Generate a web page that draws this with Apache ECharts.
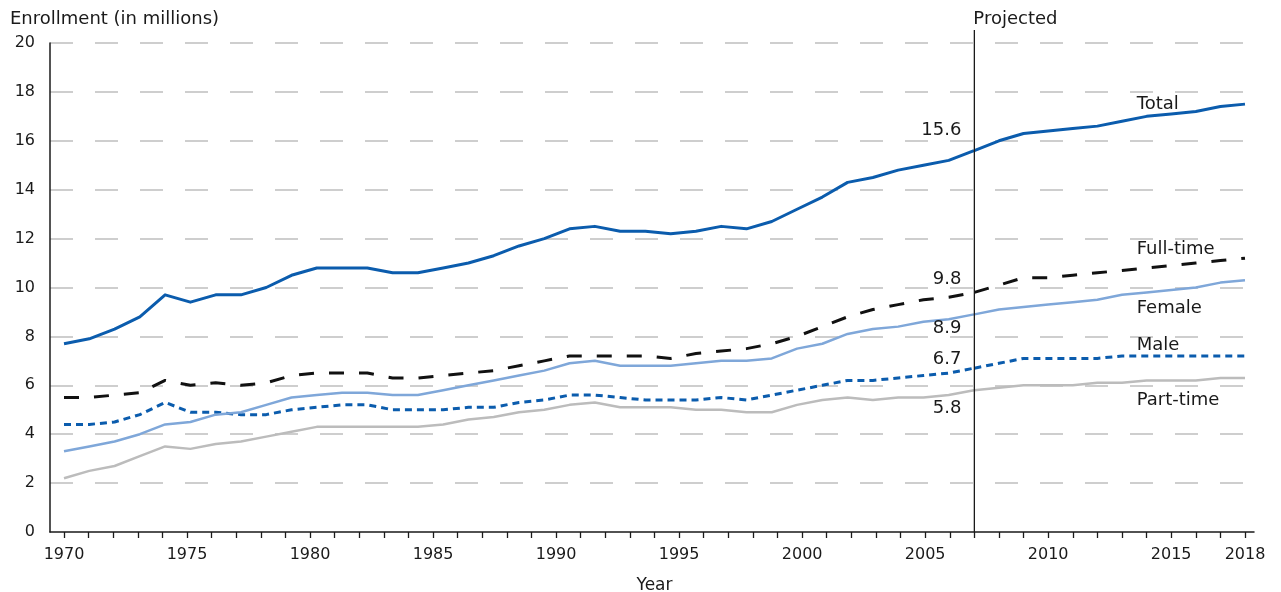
<!DOCTYPE html>
<html>
<head>
<meta charset="utf-8">
<title>Enrollment</title>
<script src="https://cdn.jsdelivr.net/npm/echarts@6/dist/echarts.min.js"></script>
<style>
  html, body { margin: 0; padding: 0; background: #fff; }
  #chart { width: 1281px; height: 592px; }
</style>
</head>
<body>
<div id="chart"></div>
<script>
// historical points: 37 values, drawn from the 1970 tick to the 2007 tick as in the source chart
const histYears = ['1971', '1972', '1973', '1974', '1975', '1976', '1977', '1978', '1979', '1980',
  '1981', '1982', '1983', '1984', '1985', '1986', '1987', '1988', '1989', '1990',
  '1991', '1992', '1993', '1994', '1995', '1996', '1997', '1998', '1999', '2000',
  '2001', '2002', '2003', '2004', '2005', '2006', '2007']

const totalHist = [7.7, 7.9, 8.3, 8.8, 9.7, 9.4, 9.7, 9.7, 10.0, 10.5, 10.8, 10.8, 10.8, 10.6, 10.6, 10.8,
  11.0, 11.3, 11.7, 12.0, 12.4, 12.5, 12.3, 12.3, 12.2, 12.3, 12.5, 12.4, 12.7, 13.2, 13.7, 14.3,
  14.5, 14.8, 15.0, 15.2, 15.6]
const fullTimeHist = [5.5, 5.5, 5.6, 5.7, 6.2, 6.0, 6.1, 6.0, 6.1, 6.4, 6.5, 6.5, 6.5, 6.3, 6.3, 6.4,
  6.5, 6.6, 6.8, 7.0, 7.2, 7.2, 7.2, 7.2, 7.1, 7.3, 7.4, 7.5, 7.7, 8.0, 8.4, 8.8,
  9.1, 9.3, 9.5, 9.6, 9.8]
const femaleHist = [3.3, 3.5, 3.7, 4.0, 4.4, 4.5, 4.8, 4.9, 5.2, 5.5, 5.6, 5.7, 5.7, 5.6, 5.6, 5.8,
  6.0, 6.2, 6.4, 6.6, 6.9, 7.0, 6.8, 6.8, 6.8, 6.9, 7.0, 7.0, 7.1, 7.5, 7.7, 8.1,
  8.3, 8.4, 8.6, 8.7, 8.9]
const maleHist = [4.4, 4.4, 4.5, 4.8, 5.3, 4.9, 4.9, 4.8, 4.8, 5.0, 5.1, 5.2, 5.2, 5.0, 5.0, 5.0,
  5.1, 5.1, 5.3, 5.4, 5.6, 5.6, 5.5, 5.4, 5.4, 5.4, 5.5, 5.4, 5.6, 5.8, 6.0, 6.2,
  6.2, 6.3, 6.4, 6.5, 6.7]
const partTimeHist = [2.2, 2.5, 2.7, 3.1, 3.5, 3.4, 3.6, 3.7, 3.9, 4.1, 4.3, 4.3, 4.3, 4.3, 4.3, 4.4,
  4.6, 4.7, 4.9, 5.0, 5.2, 5.3, 5.1, 5.1, 5.1, 5.0, 5.0, 4.9, 4.9, 5.2, 5.4, 5.5,
  5.4, 5.5, 5.5, 5.6, 5.8]

// projected points (2007 repeats the last actual value so the lines join)
const projYears = [2007, 2008, 2009, 2010, 2011, 2012, 2013, 2014, 2015, 2016, 2017, 2018]
const totalProj = [15.6, 16.0, 16.3, 16.4, 16.5, 16.6, 16.8, 17.0, 17.1, 17.2, 17.4, 17.5]
const fullTimeProj = [9.8, 10.1, 10.4, 10.4, 10.5, 10.6, 10.7, 10.8, 10.9, 11.0, 11.1, 11.2]
const femaleProj = [8.9, 9.1, 9.2, 9.3, 9.4, 9.5, 9.7, 9.8, 9.9, 10.0, 10.2, 10.3]
const maleProj = [6.7, 6.9, 7.1, 7.1, 7.1, 7.1, 7.2, 7.2, 7.2, 7.2, 7.2, 7.2]
const partTimeProj = [5.8, 5.9, 6.0, 6.0, 6.0, 6.1, 6.1, 6.2, 6.2, 6.2, 6.3, 6.3]

const xLabelYears = [1970, 1975, 1980, 1985, 1990, 1995, 2000, 2005, 2010, 2015, 2018]
const projectedYear = 2007

const FONT = 'DejaVu Sans'
const TEXT = '#1a1a1a'
const BLUE = '#0b5cad'

// line styles + where the name / 2007 value labels sit
const lines = [
  { name: 'Part-time', hist: partTimeHist, proj: partTimeProj, color: '#bcbcbc', dash: 'solid', width: 2.5, nameAt: 5.4, valDy: 18 },
  { name: 'Male', hist: maleHist, proj: maleProj, color: BLUE, dash: [7, 5], width: 3, nameAt: 7.65, valDy: -9 },
  { name: 'Female', hist: femaleHist, proj: femaleProj, color: '#7fa7d9', dash: 'solid', width: 2.5, nameAt: 9.15, valDy: 14 },
  { name: 'Full-time', hist: fullTimeHist, proj: fullTimeProj, color: '#111111', dash: [15, 15], width: 3, nameAt: 11.55, valDy: -13 },
  { name: 'Total', hist: totalHist, proj: totalProj, color: BLUE, dash: 'solid', width: 3, nameAt: 17.5, valDy: -20 }
]

const chart = echarts.init(document.getElementById('chart'))

const series = []
lines.forEach((l, i) => {
  const lineStyle = { color: l.color, width: l.width, type: l.dash, cap: 'butt', join: 'round' }
  series.push({
    name: l.name, type: 'line', xAxisIndex: 2, yAxisIndex: 2,
    data: l.hist, showSymbol: false, symbol: 'none', lineStyle, z: 3 + i, silent: true
  })
  series.push({
    name: l.name + ' (projected)', type: 'line', xAxisIndex: 1, yAxisIndex: 1,
    data: projYears.map((y, k) => [y, l.proj[k]]), showSymbol: false, symbol: 'none', lineStyle, z: 3 + i, silent: true
  })
})

const textStyle = { fontFamily: FONT, color: TEXT }

chart.setOption({
  animation: false,
  backgroundColor: '#fff',
  title: {
    text: 'Enrollment (in millions)', left: 5, top: 5,
    textStyle: { fontFamily: FONT, fontSize: 18, fontWeight: 'normal', color: TEXT }
  },
  grid: [
    { left: 50, right: 27, top: 43, bottom: 60, outerBoundsMode: 'none' },  // frame: axis lines + gridlines
    { left: 64, right: 36, top: 43, bottom: 60, outerBoundsMode: 'none' },  // year axis, projections
    { left: 64, right: 307, top: 43, bottom: 60, outerBoundsMode: 'none' }  // historical stretch 1970 -> 2007 tick
  ],
  xAxis: [
    {
      gridIndex: 0, type: 'value', min: 0, max: 1,
      axisLine: { show: true, lineStyle: { color: TEXT, width: 1.5 } },
      axisTick: { show: false }, axisLabel: { show: false }, splitLine: { show: false }
    },
    {
      gridIndex: 1, type: 'value', min: 1970, max: 2018, interval: 1,
      axisLine: { show: false },
      axisTick: { show: true, length: 6, lineStyle: { color: TEXT, width: 1.3 } },
      axisLabel: {
        margin: 15, fontSize: 16, ...textStyle,
        formatter: v => xLabelYears.includes(v) ? String(v) : ''
      },
      splitLine: { show: false },
      name: 'Year', nameLocation: 'middle', nameGap: 45,
      nameTextStyle: { fontSize: 17, ...textStyle }
    },
    { gridIndex: 2, type: 'category', data: histYears, boundaryGap: false, show: false }
  ],
  yAxis: [
    {
      gridIndex: 0, type: 'value', min: 0, max: 20, interval: 2,
      axisLine: { show: true, lineStyle: { color: TEXT, width: 1.5 } },
      axisTick: { show: false },
      axisLabel: { margin: 15, fontSize: 16, ...textStyle },
      splitLine: { show: true, showMinLine: false, lineStyle: { color: '#bfbfbf', width: 1.5, type: [23, 22] } }
    },
    { gridIndex: 1, type: 'value', min: 0, max: 20, show: false },
    { gridIndex: 2, type: 'value', min: 0, max: 20, show: false }
  ],
  series
})

// annotations placed from data coordinates
const px = (x, y) => chart.convertToPixel({ gridIndex: 1 }, [x, y])
const base = px(projectedYear, 0)
const graphic = [
  { type: 'line', silent: true, z: 10, shape: { x1: base[0], y1: 30, x2: base[0], y2: base[1] }, style: { stroke: TEXT, lineWidth: 1.3 } },
  { type: 'text', silent: true, z: 10, x: base[0] - 1, y: 19, style: { text: 'Projected', fontFamily: FONT, fontSize: 18, fill: TEXT, align: 'left', verticalAlign: 'middle' } }
]
lines.forEach(l => {
  const n = px(2013.6, l.nameAt)
  graphic.push({ type: 'text', silent: true, z: 10, x: n[0], y: n[1], style: { text: l.name, fontFamily: FONT, fontSize: 18, fill: TEXT, align: 'left', verticalAlign: 'middle' } })
  const p = px(projectedYear, l.proj[0])
  graphic.push({ type: 'text', silent: true, z: 10, x: p[0] - 13, y: p[1] + l.valDy, style: { text: l.proj[0].toFixed(1), fontFamily: FONT, fontSize: 18, fill: TEXT, align: 'right', verticalAlign: 'middle' } })
})
chart.setOption({ graphic })
</script>
</body>
</html>
